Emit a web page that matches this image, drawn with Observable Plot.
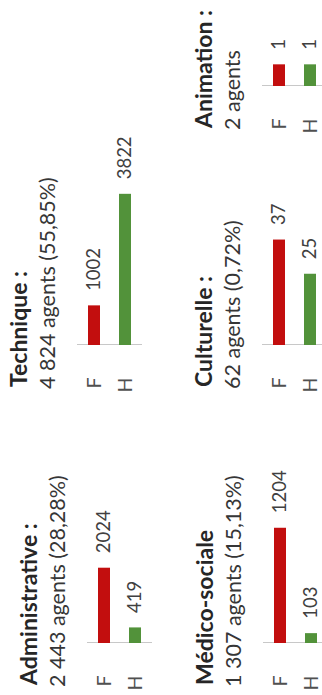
<!DOCTYPE html>
<html lang="fr">
<head>
<meta charset="utf-8">
<script src="https://cdn.jsdelivr.net/npm/d3@7"></script>
<script src="https://cdn.jsdelivr.net/npm/@observablehq/plot@0.6"></script>
<style>
  html, body { margin: 0; padding: 0; background: #fff; }
  #page { position: relative; width: 322px; height: 695px; overflow: hidden; }
  /* the sheet is laid out landscape, then turned a quarter turn to the left */
  #sheet {
    position: absolute; left: 0; top: 0; width: 695px; height: 322px;
    transform-origin: 0 0; transform: translateY(695px) rotate(-90deg);
    font-family: Lato, "Open Sans", sans-serif;
  }
  .panel { position: absolute; width: 300px; height: 140px; }
  .panel .title { position: absolute; left: 0; top: -5px; white-space: nowrap; font-weight: 700;
    font-size: 23px; line-height: 1; color: #262626; }
  .panel .sub { position: absolute; left: -2px; top: 25px; white-space: nowrap;
    font-size: 21.5px; line-height: 1; color: #363636; }
  .panel svg { position: absolute; left: 0; top: 65px; overflow: visible; max-width: none; }
</style>
</head>
<body>
<div id="page"><div id="sheet"></div></div>
<script>
// Agents by job family, split by sex (F = femmes, H = hommes)
const filieres = ["Administrative :", "Technique :", "Médico-sociale", "Culturelle :", "Animation :"];
const effectifs = ["2 443 agents (28,28%)", "4 824 agents (55,85%)", "1 307 agents (15,13%)", "62 agents (0,72%)", "2 agents"];
const sexes = ["F", "H"];
const femmes = [2024, 1002, 1204, 37, 1];
const hommes = [419, 3822, 103, 25, 1];

// Each family gets its own little chart with its own value scale
const layout = [
  {left: 10,  top: 22,  plotWidth: 93,  xMax: 2500},
  {left: 308, top: 12,  plotWidth: 178, xMax: 4500},
  {left: 10,  top: 198, plotWidth: 134, xMax: 1400},
  {left: 308, top: 197, plotWidth: 114, xMax: 40},
  {left: 567, top: 197, plotWidth: 26,  xMax: 1.2}
];

const colours = {F: "#c20e0e", H: "#52923a"};
const sheet = document.getElementById("sheet");

filieres.forEach((name, i) => {
  const box = layout[i];
  const rows = [
    {sexe: "F", value: femmes[i]},
    {sexe: "H", value: hommes[i]}
  ];

  const panel = document.createElement("div");
  panel.className = "panel";
  panel.style.left = box.left + "px";
  panel.style.top = box.top + "px";

  const title = document.createElement("div");
  title.className = "title";
  title.textContent = name;
  const sub = document.createElement("div");
  sub.className = "sub";
  sub.textContent = effectifs[i];

  const marginLeft = 42, marginRight = 60;
  const chart = Plot.plot({
    width: marginLeft + box.plotWidth + marginRight,
    height: 65,
    marginLeft, marginRight, marginTop: 0, marginBottom: 0,
    style: {fontFamily: "Lato, 'Open Sans', sans-serif", background: "transparent", overflow: "visible"},
    x: {domain: [0, box.xMax], axis: null},
    y: {domain: sexes, paddingInner: 0.6, paddingOuter: 0.32, axis: null},
    color: {domain: sexes, range: sexes.map(s => colours[s])},
    marks: [
      Plot.ruleX([0], {stroke: "#c8c8c8", strokeWidth: 1}),
      Plot.barX(rows, {x: "value", y: "sexe", fill: "sexe"}),
      Plot.text(rows, {x: "value", y: "sexe", text: d => String(d.value), textAnchor: "start",
        dx: 14, fontSize: 18.5, fill: "#404040"}),
      Plot.axisY({tickSize: 0, tickPadding: 33, fontSize: 19.5, fill: "#505050", label: null})
    ]
  });

  panel.append(title, sub, chart);
  sheet.append(panel);
});
</script>
</body>
</html>
